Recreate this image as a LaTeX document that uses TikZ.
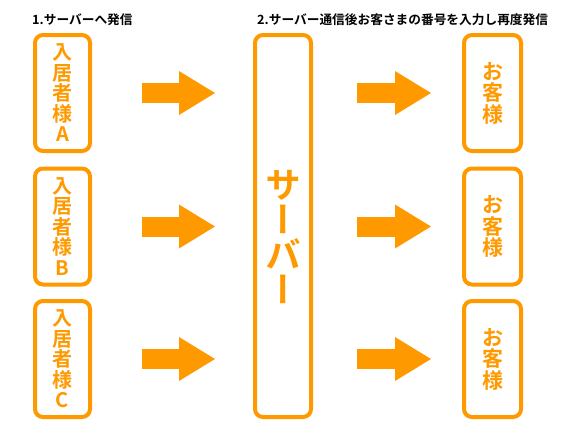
\documentclass[tikz,border=0pt]{standalone}
\usepackage{fontspec}
\usetikzlibrary{arrows.meta}

\newfontfamily\jpbold{Noto Sans CJK JP Bold}
\newfontfamily\jpvert[RawFeature=+vert]{Noto Sans CJK JP Bold}
\definecolor{boxorange}{HTML}{FF9900}

\tikzset{
  userbox/.style={draw=boxorange, line width=4pt, rounded corners=8pt,
    minimum width=55pt, minimum height=116pt, inner sep=0pt,
    text=boxorange, align=center, font=\jpbold\fontsize{20}{20.5}\selectfont},
  guestbox/.style={userbox, minimum width=57pt,
    font=\jpbold\fontsize{21}{21.5}\selectfont},
  serverbox/.style={draw=boxorange, line width=4pt, rounded corners=8pt,
    minimum width=56pt, minimum height=382pt, inner sep=0pt},
  servertext/.style={text=boxorange, align=center, inner sep=0pt,
    font=\jpvert\fontsize{36}{35}\selectfont},
  steptitle/.style={anchor=base west, inner sep=0pt,
    font=\jpbold\fontsize{12.7}{15}\selectfont},
  bigarrow/.style={boxorange, line width=20pt,
    -{Triangle[length=36pt, width=44pt, line width=0pt]}}
}

\begin{document}
\begin{tikzpicture}[x=1pt, y=-1pt]
\useasboundingbox (0,0) rectangle (567,426);

% titles
\node[steptitle] (t1) at (32,24.5) {1.サーバーへ発信};
\node[steptitle] (t2) at (257,24.5) {2.サーバー通信後お客さまの番号を入力し再度発信};

% residents
\node[userbox] (inA) at (62.5,93)    {入\\居\\者\\様\\A};
\node[userbox] (inB) at (62.5,226.5) {入\\居\\者\\様\\B};
\node[userbox] (inC) at (62.5,359)   {入\\居\\者\\様\\C};

% server
\node[serverbox] (srv) at (283,226) {};
\node[servertext] (srvlbl) at ([yshift=-11pt]srv.center) {サ\\ー\\バ\\ー};

% guests
\node[guestbox] (outA) at (492.5,93)    {お\\客\\様};
\node[guestbox] (outB) at (492.5,226.5) {お\\客\\様};
\node[guestbox] (outC) at (492.5,359)   {お\\客\\様};

% arrows to the server
\draw[bigarrow] ([xshift=50pt]inA.east) -- ([xshift=-38pt]inA.east -| srv.west);
\draw[bigarrow] ([xshift=50pt]inB.east) -- ([xshift=-38pt]inB.east -| srv.west);
\draw[bigarrow] ([xshift=50pt]inC.east) -- ([xshift=-38pt]inC.east -| srv.west);

% arrows to the guests
\draw[bigarrow] ([xshift=44pt]outA.west -| srv.east) -- ([xshift=-31pt]outA.west);
\draw[bigarrow] ([xshift=44pt]outB.west -| srv.east) -- ([xshift=-31pt]outB.west);
\draw[bigarrow] ([xshift=44pt]outC.west -| srv.east) -- ([xshift=-31pt]outC.west);

\end{tikzpicture}
\end{document}
